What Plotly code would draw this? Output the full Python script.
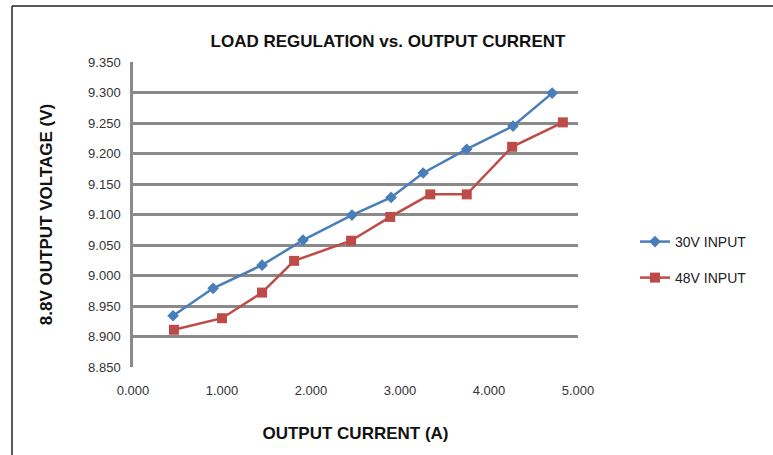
import plotly.graph_objects as go

current_30v = [0.45, 0.90, 1.45, 1.91, 2.46, 2.90, 3.26, 3.75, 4.27, 4.71]
voltage_30v = [8.934, 8.979, 9.017, 9.058, 9.099, 9.128, 9.168, 9.207, 9.245, 9.299]

current_48v = [0.46, 1.00, 1.45, 1.81, 2.45, 2.89, 3.34, 3.75, 4.26, 4.83]
voltage_48v = [8.911, 8.930, 8.972, 9.024, 9.057, 9.096, 9.133, 9.133, 9.211, 9.251]

x_ticks = [0, 1, 2, 3, 4, 5]
y_ticks = [8.85, 8.90, 8.95, 9.00, 9.05, 9.10, 9.15, 9.20, 9.25, 9.30, 9.35]

BLUE = "#4A7EBB"
RED = "#BE4B48"
GRID = "#8a8a8a"
FONT = "Liberation Sans, Arial, sans-serif"

fig = go.Figure()
fig.add_trace(go.Scatter(
    x=current_30v, y=voltage_30v, mode="lines+markers", name="30V INPUT",
    line=dict(color=BLUE, width=2.5),
    marker=dict(symbol="diamond", size=9, color=BLUE),
    legend="legend",
))
fig.add_trace(go.Scatter(
    x=current_48v, y=voltage_48v, mode="lines+markers", name="48V INPUT",
    line=dict(color=RED, width=2.5),
    marker=dict(symbol="square", size=10, color=RED),
    legend="legend2",
))

W, H = 773, 455
L, R, T, B = 133, 195, 62, 88
pw = W - L - R
ph = H - T - B

def px(xp):
    return (xp - L) / pw

def py(yp):
    return (H - B - yp) / ph

leg_common = dict(
    font=dict(family=FONT, size=14, color="#222"),
    bgcolor="rgba(0,0,0,0)", borderwidth=0,
    xanchor="left", yanchor="middle", itemwidth=30,
)

fig.update_layout(
    width=W, height=H,
    margin=dict(l=L, r=R, t=T, b=B),
    paper_bgcolor="white", plot_bgcolor="white",
    font=dict(family=FONT, size=13, color="#333"),
    title=dict(
        text="<b>LOAD REGULATION vs. OUTPUT CURRENT</b>",
        x=px(388), xanchor="center", xref="paper",
        y=1 - 41 / H, yanchor="middle", yref="container",
        font=dict(family=FONT, size=17, color="#111"),
    ),
    xaxis=dict(
        range=[0, 5], tickvals=x_ticks, tickformat=".3f",
        showgrid=False, zeroline=False,
        showline=False, ticks="", ticklabelstandoff=14,
        tickfont=dict(family=FONT, size=13, color="#333"),
        title=dict(text="<b>OUTPUT CURRENT (A)</b>",
                   font=dict(family=FONT, size=17, color="#111"), standoff=30),
    ),
    yaxis=dict(
        range=[8.85, 9.35], tickvals=y_ticks, tickformat=".3f",
        showgrid=True, gridcolor=GRID, gridwidth=2.5,
        zeroline=False, showline=True, linecolor=GRID, linewidth=2.5,
        ticks="", ticklabelstandoff=7,
        tickfont=dict(family=FONT, size=13, color="#333"),
        title=dict(text="<b>8.8V OUTPUT VOLTAGE (V)</b>",
                   font=dict(family=FONT, size=17, color="#111"), standoff=32),
    ),
    legend=dict(x=px(635), y=py(242), **leg_common),
    legend2=dict(x=px(635), y=py(278), **leg_common),
    showlegend=True,
    shapes=[
        dict(type="line", xref="paper", yref="paper",
             x0=px(12), x1=px(W + 5), y0=py(6), y1=py(6),
             line=dict(color="#222", width=1.5)),
        dict(type="line", xref="paper", yref="paper",
             x0=px(12), x1=px(12), y0=py(6), y1=py(H + 5),
             line=dict(color="#222", width=1.5)),
    ],
)

fig.write_html("out.html", config={"displayModeBar": False},
               post_script="document.body.style.margin='0';")
